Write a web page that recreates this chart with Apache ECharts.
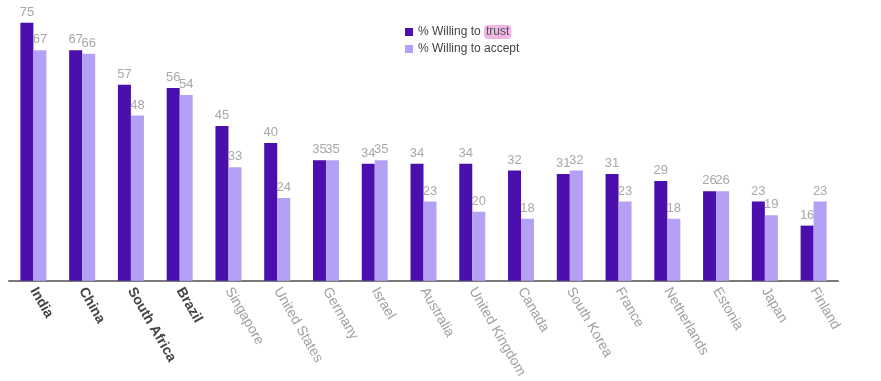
<!DOCTYPE html>
<html>
<head>
<meta charset="utf-8">
<script src="https://cdn.jsdelivr.net/npm/echarts@6/dist/echarts.min.js"></script>
<style>html,body{margin:0;padding:0;background:#fff;}#c{width:881px;height:381px;}</style>
</head>
<body>
<div id="c"></div>
<script>
var categories = ['India','China','South Africa','Brazil','Singapore','United States','Germany','Israel','Australia','United Kingdom','Canada','South Korea','France','Netherlands','Estonia','Japan','Finland'];
var boldCategories = ['India','China','South Africa','Brazil'];
var trustValues = [75,67,57,56,45,40,35,34,34,34,32,31,31,29,26,23,16];
var acceptValues = [67,66,48,54,33,24,35,35,23,20,18,32,23,18,26,19,23];
var seriesNames = ['% Willing to trust','% Willing to accept'];

var chart = echarts.init(document.getElementById('c'));
var labelStyle = {show:true, position:'top', color:'#a8a8a8', fontSize:13, fontFamily:'Liberation Sans, Arial, sans-serif', distance:4};
chart.setOption({
  animation:false,
  grid:{left:9, right:43, top:9, bottom:96, containLabel:false},
  legend:{
    orient:'vertical', left:400, top:20, itemWidth:8, itemHeight:8, itemGap:4,
    icon:'rect',
    textStyle:{color:'#444', fontSize:12, fontFamily:'Liberation Sans, Arial, sans-serif',
      rich:{hl:{backgroundColor:'#efb6e6', borderRadius:4, padding:[1,2,1,2], color:'#555', fontSize:12, fontFamily:'Liberation Sans, Arial, sans-serif'}}},
    formatter:function(n){ return n===seriesNames[0] ? '% Willing to {hl|trust}' : n; },
    data:seriesNames
  },
  xAxis:{
    type:'category', data:categories,
    axisLine:{lineStyle:{color:'#7a7a7a', width:2}},
    axisTick:{show:false},
    axisLabel:{
      interval:0, rotate:-60, margin:8,
      fontSize:14, fontFamily:'Liberation Sans, Arial, sans-serif',
      formatter:function(v){ return boldCategories.indexOf(v)>=0 ? '{b|'+v+'}' : '{n|'+v+'}'; },
      rich:{b:{fontWeight:'bold', color:'#444', fontSize:14, fontFamily:'Liberation Sans, Arial, sans-serif'},
            n:{color:'#a0a0a0', fontSize:14, fontFamily:'Liberation Sans, Arial, sans-serif'}}
    }
  },
  yAxis:{type:'value', min:0, max:79, show:false, splitLine:{show:false}},
  series:[
    {name:seriesNames[0], type:'bar', data:trustValues, barWidth:13, barGap:'0%', itemStyle:{color:'#4b0fad'}, label:labelStyle},
    {name:seriesNames[1], type:'bar', data:acceptValues, barWidth:13, barGap:'0%', itemStyle:{color:'#b4a0f5'}, label:labelStyle}
  ]
});
</script>
</body>
</html>
